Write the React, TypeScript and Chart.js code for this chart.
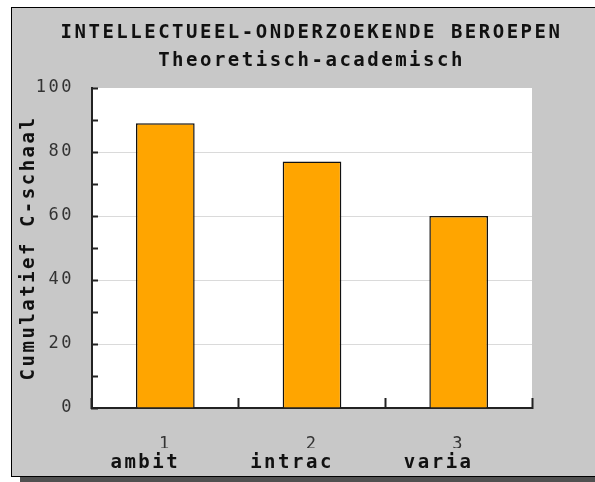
import React, { useEffect, useRef } from 'react';
import { Chart, registerables } from 'chart.js';

Chart.register(...registerables);

const titleLines = ['INTELLECTUEEL-ONDERZOEKENDE BEROEPEN', 'Theoretisch-academisch'];
const yAxisTitle = 'Cumulatief C-schaal';
const categoryNumbers = ['1', '2', '3'];
const categoryNames = ['ambit', 'intrac', 'varia'];
const cumulativeScores = [89, 77, 60];
const yTickLabels = [0, 20, 40, 60, 80, 100];
const yGridValues = [20, 40, 60, 80];

const FONT = '"DejaVu Sans Mono", "Liberation Mono", monospace';

export default function App() {
  const ref = useRef<HTMLCanvasElement>(null);

  useEffect(() => {
    const canvas = ref.current;
    if (!canvas) return;

    const plotBg = {
      id: 'plotBg',
      beforeDraw(chart: any) {
        const { ctx, chartArea: a } = chart;
        ctx.save();
        ctx.fillStyle = '#ffffff';
        ctx.fillRect(a.left, a.top, a.right - a.left, a.bottom - a.top);
        ctx.restore();
        ctx.letterSpacing = '2.5px';
      },
    };

    const chart = new Chart(canvas, {
      type: 'bar',
      data: {
        labels: categoryNames,
        datasets: [
          {
            data: cumulativeScores,
            backgroundColor: '#FFA500',
            borderColor: '#111111',
            borderWidth: 1.5,
            barPercentage: 0.4,
            categoryPercentage: 1,
            xAxisID: 'x',
            yAxisID: 'y',
          },
        ],
      },
      options: {
        responsive: false,
        animation: false,
        devicePixelRatio: 1,
        layout: { padding: { left: 28, right: 0, top: 0, bottom: 0 } },
        plugins: {
          legend: { display: false },
          tooltip: { enabled: false },
          title: {
            display: true,
            text: titleLines,
            color: '#111111',
            font: { family: FONT, size: 19, weight: 'bold', lineHeight: '28px' },
            padding: { top: 19, bottom: 13 },
          },
        },
        scales: {
          x: {
            type: 'category',
            position: 'bottom',
            offset: true,
            weight: 0,
            grid: {
              offset: true,
              drawOnChartArea: false,
              drawTicks: true,
              tickLength: -10,
              tickColor: '#222222',
              tickWidth: 2,
            },
            border: { color: '#222222', width: 2 },
            ticks: {
              callback: (_v: any, i: number) => categoryNumbers[i],
              font: { family: FONT, size: 17 },
              color: '#333333',
              padding: 36.8,
              maxRotation: 0,
              autoSkip: false,
            },
            afterFit(s: any) {
              s.height = 40;
            },
          },
          x2: {
            type: 'category',
            position: 'bottom',
            labels: categoryNames,
            offset: true,
            weight: 1,
            grid: { display: false, drawTicks: false },
            border: { display: false },
            ticks: {
              font: { family: FONT, size: 19, weight: 'bold' },
              color: '#111111',
              padding: 4,
              labelOffset: -20,
              maxRotation: 0,
              autoSkip: false,
            },
            afterFit(s: any) {
              s.height = 34;
            },
          },
          y: {
            type: 'linear',
            position: 'left',
            min: 0,
            max: 100,
            grid: {
              color: (ctx: any) =>
                yGridValues.includes(ctx.tick && ctx.tick.value) ? '#dadada' : 'rgba(0,0,0,0)',
              lineWidth: 1,
              drawTicks: true,
              tickLength: -6,
              tickColor: '#222222',
              tickWidth: 2,
            },
            border: { color: '#222222', width: 2 },
            ticks: {
              stepSize: 10,
              autoSkip: false,
              callback: (v: any) => (yTickLabels.includes(Number(v)) ? String(v) : ''),
              font: { family: FONT, size: 17 },
              color: '#333333',
              padding: 24,
            },
            title: {
              display: true,
              text: yAxisTitle,
              color: '#111111',
              font: { family: FONT, size: 19, weight: 'bold' },
              padding: { top: -10.4, bottom: 0 },
            },
            afterFit(s: any) {
              s.width = 64;
            },
          },
          yRight: {
            type: 'linear',
            position: 'right',
            display: true,
            grid: { display: false, drawTicks: false },
            border: { display: false },
            ticks: { display: false },
            afterFit(s: any) {
              s.width = 63;
            },
          },
        },
      },
      plugins: [plotBg],
    } as any);

    return () => chart.destroy();
  }, []);

  return (
    <div
      style={{
        position: 'fixed',
        left: 0,
        top: 0,
        width: 595,
        height: 482,
        overflow: 'hidden',
        background: '#ffffff',
      }}
    >
      <div
        style={{
          position: 'absolute',
          left: 11,
          top: 7,
          width: 620,
          height: 468,
          background: '#c8c8c8',
          borderTop: '1px solid #000',
          borderLeft: '1px solid #000',
          borderBottom: '1px solid #000',
          boxShadow: '9px 5px 0 #505050',
        }}
      />
      <canvas
        ref={ref}
        width={595}
        height={482}
        style={{ position: 'absolute', left: 0, top: 0, width: 595, height: 482 }}
      />
    </div>
  );
}
